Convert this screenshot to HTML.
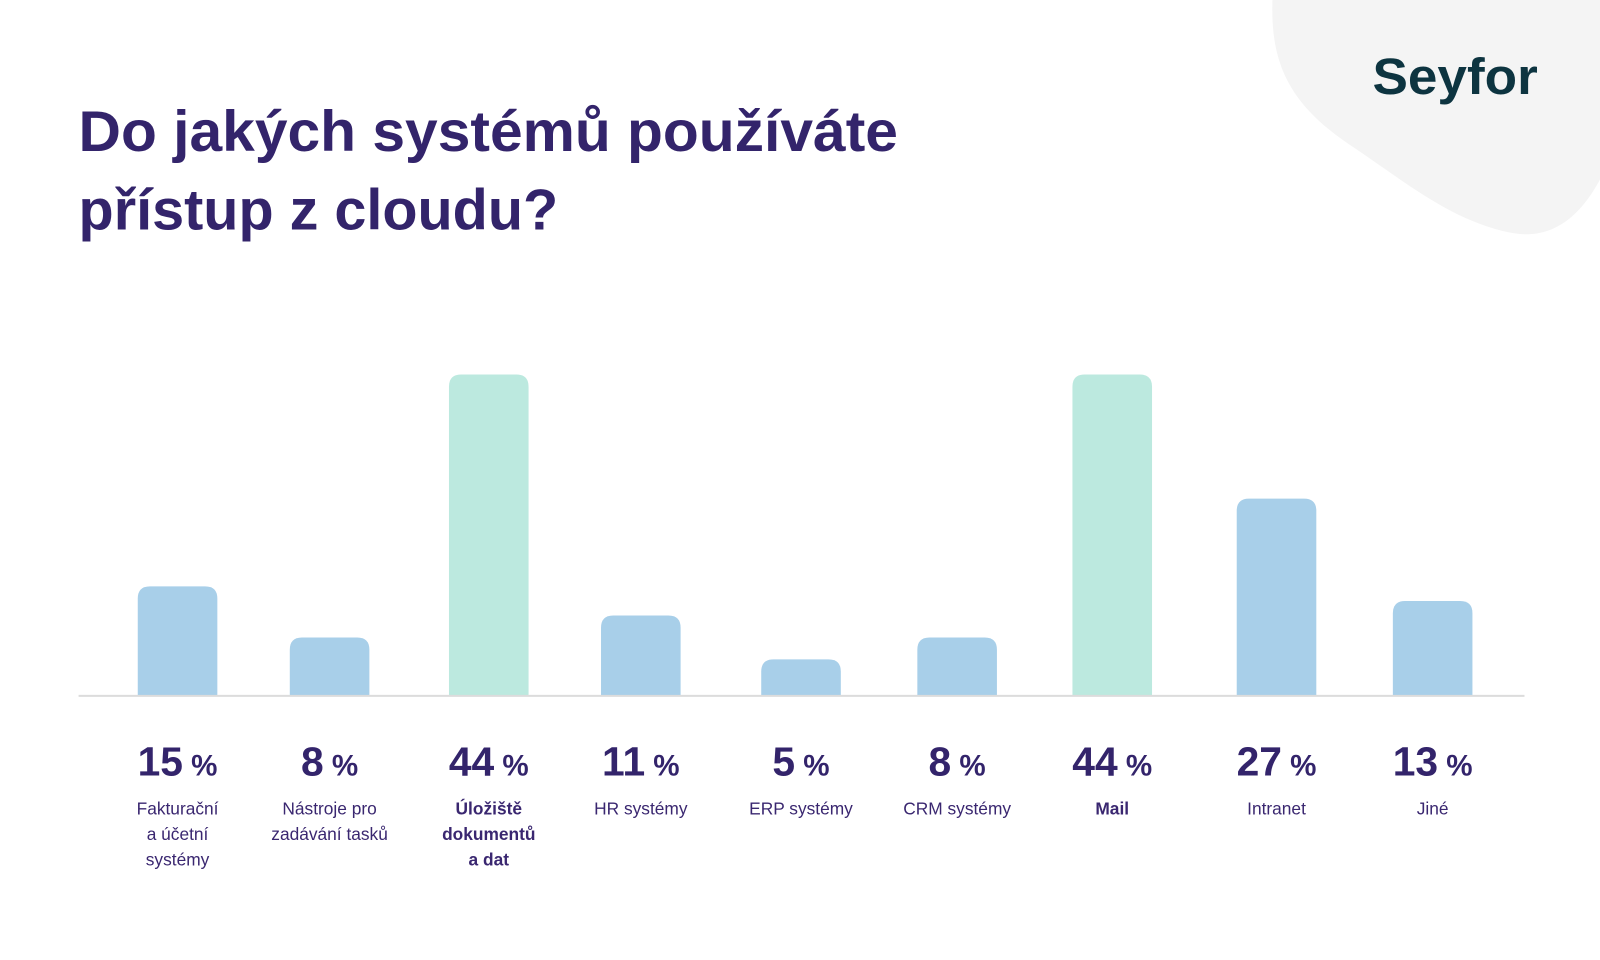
<!DOCTYPE html>
<html><head><meta charset="utf-8"><style>
html,body{margin:0;padding:0;background:#fff;}
svg{display:block;font-family:"Liberation Sans",sans-serif;}
</style></head><body>
<svg id="chart" width="1600" height="960" viewBox="0 0 1600 960">
<g transform="scale(1.0204)">
<path fill="#f4f4f4" d="M1247,0 C1245,60 1262,100 1320,140 C1380,180 1420,215 1480,228 C1530,238 1560,200 1580,150 L1600,120 L1600,0 Z"/>
<text x="1345" y="92" font-size="50" font-weight="bold" fill="#0d3440" textLength="162" lengthAdjust="spacingAndGlyphs">Seyfor</text>
<text fill="#33246b" font-size="56" font-weight="bold">
<tspan x="77" y="148" textLength="803" lengthAdjust="spacingAndGlyphs">Do jakých systémů používáte</tspan>
<tspan x="77" y="225" textLength="470" lengthAdjust="spacingAndGlyphs">přístup z cloudu?</tspan>
</text>
<g id="bars"></g>
<line x1="77" y1="682" x2="1494" y2="682" stroke="#dcdcdc" stroke-width="2"/>
<g id="labels"></g>
</g>
</svg>
<script>
const categories = [["Fakturační","a účetní","systémy"],["Nástroje pro","zadávání tasků"],["Úložiště","dokumentů","a dat"],["HR systémy"],["ERP systémy"],["CRM systémy"],["Mail"],["Intranet"],["Jiné"]];
const values = [15,8,44,11,5,8,44,27,13];
const highlighted = [false,false,true,false,false,false,true,false,false];
const centers = [174,323,479,628,785,938,1090,1251,1404];
const base = 682, maxH = 315, maxV = 44, bw = 78;
const yScale = v => base - v / maxV * maxH;
const NS = "http://www.w3.org/2000/svg";
const bars = document.getElementById('bars'), labels = document.getElementById('labels');
values.forEach((v,i)=>{
  const cx = centers[i], top = yScale(v), h = base - top, r = Math.min(12,h/2);
  const p = document.createElementNS(NS,'path');
  p.setAttribute('d',`M${cx-bw/2},${base} L${cx-bw/2},${top+r} Q${cx-bw/2},${top} ${cx-bw/2+r},${top} L${cx+bw/2-r},${top} Q${cx+bw/2},${top} ${cx+bw/2},${top+r} L${cx+bw/2},${base} Z`);
  p.setAttribute('fill', highlighted[i] ? '#bce9df' : '#a8cfe9');
  
  
  bars.appendChild(p);
  const t = document.createElementNS(NS,'text');
  t.setAttribute('x', cx); t.setAttribute('y', 760);
  t.setAttribute('text-anchor','middle'); t.setAttribute('fill','#33246b'); t.setAttribute('font-weight','bold');
  
  
  const a = document.createElementNS(NS,'tspan'); a.setAttribute('font-size','40'); a.textContent = v;
  const b = document.createElementNS(NS,'tspan'); b.setAttribute('font-size','29'); b.setAttribute('dx','8'); b.textContent = '%';
  t.appendChild(a); t.appendChild(b); labels.appendChild(t);
  const c = document.createElementNS(NS,'text');
  c.setAttribute('text-anchor','middle'); c.setAttribute('fill','#3a2770'); c.setAttribute('font-size','17');
  if (highlighted[i]) c.setAttribute('font-weight','bold');
  
  
  categories[i].forEach((line,j)=>{
    const s = document.createElementNS(NS,'tspan');
    s.setAttribute('x', cx); s.setAttribute('y', 798 + j*25); s.textContent = line; c.appendChild(s);
  });
  labels.appendChild(c);
});
</script>
</body></html>
